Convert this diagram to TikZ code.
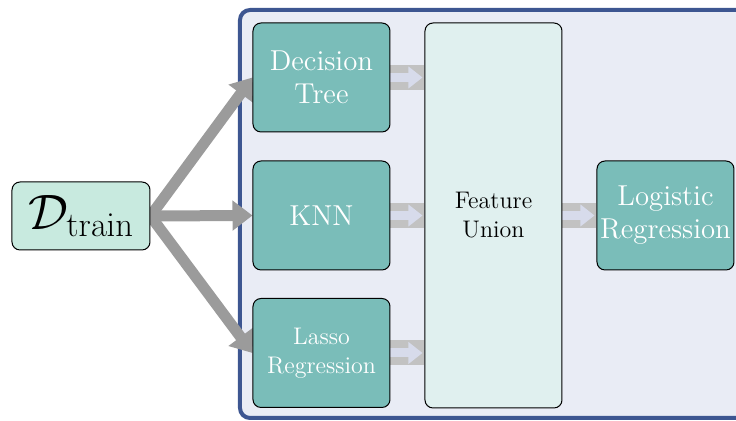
\documentclass[tikz,border=0pt]{standalone}
\usetikzlibrary{arrows.meta}
\definecolor{modelfill}{RGB}{122,189,185}
\definecolor{unionfill}{RGB}{224,240,239}
\definecolor{datafill}{RGB}{200,234,223}
\definecolor{panelfill}{RGB}{233,236,245}
\definecolor{paneldraw}{RGB}{61,86,145}
\definecolor{arrowgray}{RGB}{155,155,155}
\definecolor{bandgray}{RGB}{194,194,194}
\definecolor{bandlight}{RGB}{215,219,235}
\pgfdeclarelayer{bg}
\pgfdeclarelayer{arrowlayer}
\pgfsetlayers{bg,arrowlayer,main}
\begin{document}
\begin{tikzpicture}[x=0.5pt,y=-0.5pt,
  model/.style={draw=black, line width=0.5pt, fill=modelfill, rounded corners=4pt,
    minimum width=68.5pt, minimum height=54.5pt, inner sep=0pt, align=center, text=white},
  bigtext/.style={font=\fontsize{14.4}{16.5}\selectfont},
  midtext/.style={font=\fontsize{12}{14.5}\selectfont},
  unionbox/.style={draw=black, line width=0.5pt, fill=unionfill, rounded corners=4pt,
    minimum width=68.5pt, minimum height=192.5pt, inner sep=0pt, align=center, text=black},
  databox/.style={draw=black, line width=0.5pt, fill=datafill, rounded corners=4pt,
    minimum width=69pt, minimum height=34pt, inner sep=0pt, align=center},
  panel/.style={draw=paneldraw, line width=2pt, fill=panelfill, rounded corners=5pt},
  bigarrow/.style={draw=arrowgray, line width=5.5pt, -{Triangle[width=14.5pt,length=10pt]}},
  band/.style={draw=bandgray, line width=12.5pt},
  bandarrow/.style={draw=bandlight, line width=4.5pt, shorten >=1pt, -{Triangle[width=10.5pt,length=7pt]}}
]
\useasboundingbox (0,0) rectangle (736,421);
\begin{pgfonlayer}{bg}
  \begin{scope}
    \clip (0,0) rectangle (736,421);
    \draw[panel] (240,10) rectangle (820,418);
  \end{scope}
\end{pgfonlayer}

\node[databox] (data) at (81,216) {\fontsize{24}{27}\selectfont$\mathcal{D}_{\mathrm{train}}$};
\node[model, bigtext] (dt) at (321.5,77.5) {Decision\\Tree};
\node[model, bigtext] (knn) at (321.5,215.5) {KNN};
\node[model, midtext] (lasso) at (321.5,353) {Lasso\\Regression};
\node[unionbox, midtext] (fu) at (493.5,215.5) {Feature\\Union};
\node[model, bigtext] (lr) at (665.5,215.5) {Logistic\\Regression};

\begin{pgfonlayer}{arrowlayer}
  \draw[bigarrow] (data.east) -- (dt.west);
  \draw[bigarrow] (data.east) -- (knn.west);
  \draw[bigarrow] (data.east) -- (lasso.west);
  \foreach \s/\t in {dt/fu, lasso/fu} {
    \draw[band] (\s.east) -- (\s.east -| \t.west);
    \draw[bandarrow] (\s.east) -- (\s.east -| \t.west);
  }
  \draw[band] (knn.east) -- (fu.west);
  \draw[bandarrow] (knn.east) -- (fu.west);
  \draw[band] (fu.east) -- (lr.west);
  \draw[bandarrow] (fu.east) -- (lr.west);
\end{pgfonlayer}
\end{tikzpicture}
\end{document}
